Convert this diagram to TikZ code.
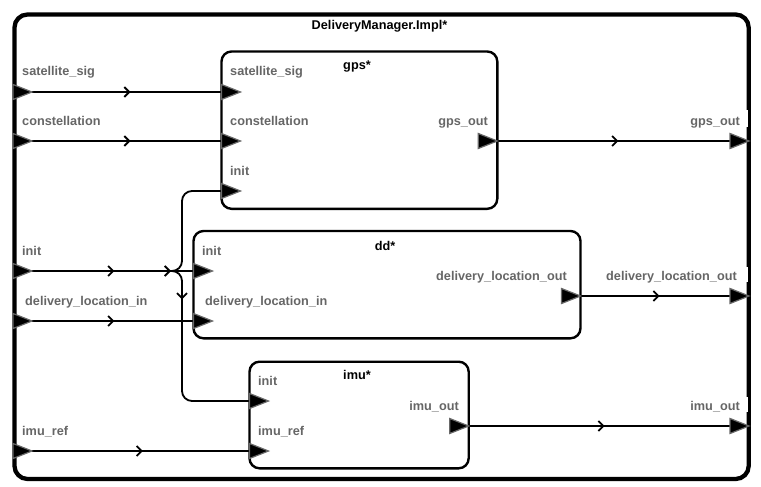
\documentclass[tikz,border=0pt]{standalone}
\usepackage{fontspec}
\setmainfont{Liberation Sans}
\usetikzlibrary{arrows.meta,decorations.markings}
\definecolor{lbl}{RGB}{102,102,102}
\definecolor{portedge}{RGB}{105,105,105}
\newcommand\defport[3]{\coordinate (#1) at (#2,#3);\coordinate (#1t) at (#2+19,#3);}
\newcommand\portat[1]{\filldraw[port] (#1) ++(0,-7.5) -- ++(19,7.5) -- ++(-19,7.5) -- cycle;}
\begin{document}
\begin{tikzpicture}[x=1pt,y=-1pt,
  outerbox/.style={draw, line width=4.3pt, rounded corners=13pt, inner sep=0pt, outer sep=0pt, anchor=north west},
  compbox/.style={draw, line width=2.4pt, rounded corners=10pt, inner sep=0pt, outer sep=0pt, anchor=north west},
  conn/.style={line width=1.8pt},
  lab/.style={font=\fontsize{12.7}{14}\selectfont\bfseries, text=lbl, inner sep=0pt},
  ttl/.style={font=\fontsize{12.7}{14}\selectfont\bfseries, inner sep=0pt, anchor=base},
  port/.style={fill=black, draw=portedge, line width=1.2pt, line join=miter},
  mid/.style={postaction={decorate}, decoration={markings, mark=at position #1 with {\arrow[line width=1.8pt]{Straight Barb[length=5pt,width=10pt]}}}},
]
\useasboundingbox (0,0) rectangle (761,487);
% boxes
\node[outerbox, minimum width=734.2pt, minimum height=464.5pt] (top) at (14.5,14.5) {};
\node[compbox, minimum width=275.8pt, minimum height=157.3pt] (gps) at (221.5,51.5) {};
\node[compbox, minimum width=387pt, minimum height=107.3pt] (dd) at (193.5,231) {};
\node[compbox, minimum width=219.2pt, minimum height=106.6pt] (imu) at (249.5,361.7) {};
% titles
\node[ttl] (topT) at (379.5,30) {DeliveryManager.Impl*};
\node[ttl] (gpsT) at (357,70) {gps*};
\node[ttl] (ddT) at (385,250) {dd*};
\node[ttl] (imuT) at (357,379) {imu*};
% ports
\defport{osat}{13}{92}
\defport{ocon}{13}{141}
\defport{oinit}{13}{271}
\defport{odli}{13}{321}
\defport{oimr}{13}{451}
\defport{gsat}{221.5}{92}
\defport{gcon}{221.5}{141}
\defport{ginit}{221.5}{191}
\defport{gout}{478.3}{141}
\defport{dinit}{193.5}{271}
\defport{ddli}{193.5}{321}
\defport{dout}{561.5}{296}
\defport{iinit}{249.5}{401}
\defport{iimr}{249.5}{451}
\defport{iout}{449.7}{426}
\defport{ogout}{730}{141}
\defport{odout}{730}{296}
\defport{oiout}{730}{426}
\coordinate (j1) at (182,271);
\coordinate (j2) at (182,191);
\coordinate (j3) at (182,401);
% connectors
\draw[conn, mid=0.52] (osatt) -- (gsat);
\draw[conn, mid=0.52] (ocont) -- (gcon);
\draw[conn, mid=0.51] (oinitt) -- (dinit);
\draw[conn, rounded corners=10pt, mid=139pt] (oinitt) -- (j1) -- (j2) -- (ginit);
\draw[conn, rounded corners=10pt, mid=174pt] (oinitt) -- (j1) -- (j3) -- (iinit);
\draw[conn, mid=0.51] (odlit) -- (ddli);
\draw[conn, mid=0.51] (oimrt) -- (iimr);
\draw[conn, mid=0.52] (goutt) -- (ogout);
\draw[conn, mid=0.53] (doutt) -- (odout);
\draw[conn, mid=0.52] (ioutt) -- (oiout);
% port triangles
\foreach \p in {osat,ocon,oinit,odli,oimr,gsat,gcon,ginit,gout,dinit,ddli,dout,iinit,iimr,iout,ogout,odout,oiout}{\portat{\p}}
% labels
\node[lab, anchor=base west] (l1) at (22,76) {satellite\_sig};
\node[lab, anchor=base west] (l2) at (22,125) {constellation};
\node[lab, anchor=base west] (l3) at (22,255) {init};
\node[lab, anchor=base west] (l4) at (25,305) {delivery\_location\_in};
\node[lab, anchor=base west] (l5) at (22,435) {imu\_ref};
\node[lab, anchor=base west] (l6) at (230,76) {satellite\_sig};
\node[lab, anchor=base west] (l7) at (230,125) {constellation};
\node[lab, anchor=base west] (l8) at (230,175) {init};
\node[lab, anchor=base west] (l9) at (202,255) {init};
\node[lab, anchor=base west] (l10) at (205,305) {delivery\_location\_in};
\node[lab, anchor=base west] (l11) at (258,385) {init};
\node[lab, anchor=base west] (l12) at (258,435) {imu\_ref};
\node[lab, anchor=base east] (l13) at (488,125) {gps\_out};
\node[lab, anchor=base east] (l14) at (567,280) {delivery\_location\_out};
\node[lab, anchor=base east] (l15) at (459,410) {imu\_out};
\node[lab, anchor=base east] (l16) at (740,125) {gps\_out};
\node[lab, anchor=base east] (l17) at (737,280) {delivery\_location\_out};
\node[lab, anchor=base east] (l18) at (740,410) {imu\_out};
\fill[white] (746.4,110) rectangle (748,127);
\fill[white] (746.4,267) rectangle (748,282);
\fill[white] (746.4,397) rectangle (748,412);
\end{tikzpicture}
\end{document}
